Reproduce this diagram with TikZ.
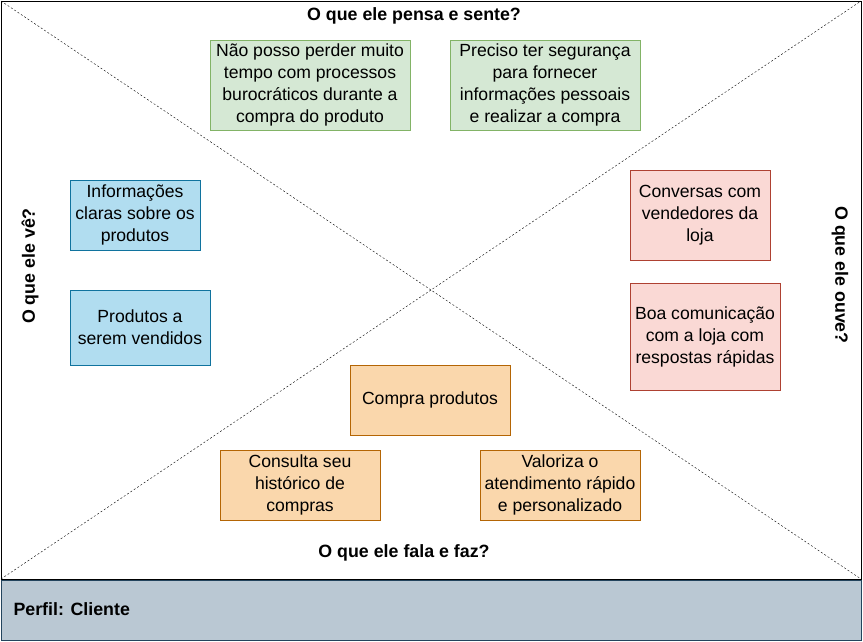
\documentclass[tikz,border=0pt]{standalone}
\usepackage{fontspec}
\setmainfont{Liberation Sans}
\usepackage{xcolor}
\definecolor{think-fill}{HTML}{D5E8D4}
\definecolor{think-line}{HTML}{82B366}
\definecolor{see-fill}{HTML}{B1DDF0}
\definecolor{see-line}{HTML}{10739E}
\definecolor{hear-fill}{HTML}{FAD9D5}
\definecolor{hear-line}{HTML}{AE4132}
\definecolor{do-fill}{HTML}{FAD7AC}
\definecolor{do-line}{HTML}{B46504}
\definecolor{profile-fill}{HTML}{BAC8D3}
\definecolor{profile-line}{HTML}{23445D}

\begin{document}
\begin{tikzpicture}[x=1pt, y=-1pt,
    every node/.style={font=\fontsize{17.6}{22}\selectfont},
    card/.style={draw, align=center, inner sep=0pt},
    title/.style={font=\fontsize{17.8}{20}\selectfont\bfseries}]
    \useasboundingbox (0,0) rectangle (863,641);
    % frame and diagonals
    \coordinate (tl) at (1,1);
    \coordinate (tr) at (861,1);
    \coordinate (bl) at (1,579);
    \coordinate (br) at (861,579);
    \draw[dashed, dash pattern=on 2pt off 2pt] (tl) -- (br);
    \draw[dashed, dash pattern=on 2pt off 2pt] (bl) -- (tr);
    \draw[line width=1pt] (tl) rectangle (br);
    \node[draw=profile-line, fill=profile-fill, minimum width=860, minimum height=60,
      inner sep=0pt, line width=1pt] (profile) at (431,610) {};
    \node[title, anchor=west] (profilelbl) at (10,609) {Perfil: Cliente};

    % quadrant titles
    \node[title] (thinkttl) at (414,16) {O que ele pensa e sente?};
    \node[title] (dottl) at (404,553) {O que ele fala e faz?};
    \node[title, rotate=90] (seettl) at (30,266) {O que ele vê?};
    \node[title, rotate=-90] (hearttl) at (840,275) {O que ele ouve?};

    % think and feel
    \node[card, fill=think-fill, draw=think-line, minimum width=200, minimum height=90]
      (think1) at (310,85) {Não posso perder muito\\tempo com processos\\burocráticos durante a\\compra do produto};
    \node[card, fill=think-fill, draw=think-line, minimum width=190, minimum height=90]
      (think2) at (545,85) {Preciso ter segurança\\para fornecer\\informações pessoais\\e realizar a compra};

    % see
    \node[card, fill=see-fill, draw=see-line, minimum width=130, minimum height=70]
      (see1) at (135,215) {Informações\\claras sobre os\\produtos};
    \node[card, fill=see-fill, draw=see-line, minimum width=140, minimum height=75]
      (see2) at (140,327.5) {Produtos a\\serem vendidos};

    % hear
    \node[card, fill=hear-fill, draw=hear-line, minimum width=140, minimum height=90]
      (hear1) at (700,215) {Conversas com\\vendedores da\\loja};
    \node[card, fill=hear-fill, draw=hear-line, minimum width=150, minimum height=107]
      (hear2) at (705,336.5) {Boa comunicação\\com a loja com\\respostas rápidas};

    % say and do
    \node[card, fill=do-fill, draw=do-line, minimum width=160, minimum height=70]
      (do1) at (430,400) {Compra produtos};
    \node[card, fill=do-fill, draw=do-line, minimum width=160, minimum height=70]
      (do2) at (300,485) {Consulta seu\\histórico de\\compras};
    \node[card, fill=do-fill, draw=do-line, minimum width=160, minimum height=70]
      (do3) at (560,485) {Valoriza o\\atendimento rápido\\e personalizado};
\end{tikzpicture}
\end{document}
